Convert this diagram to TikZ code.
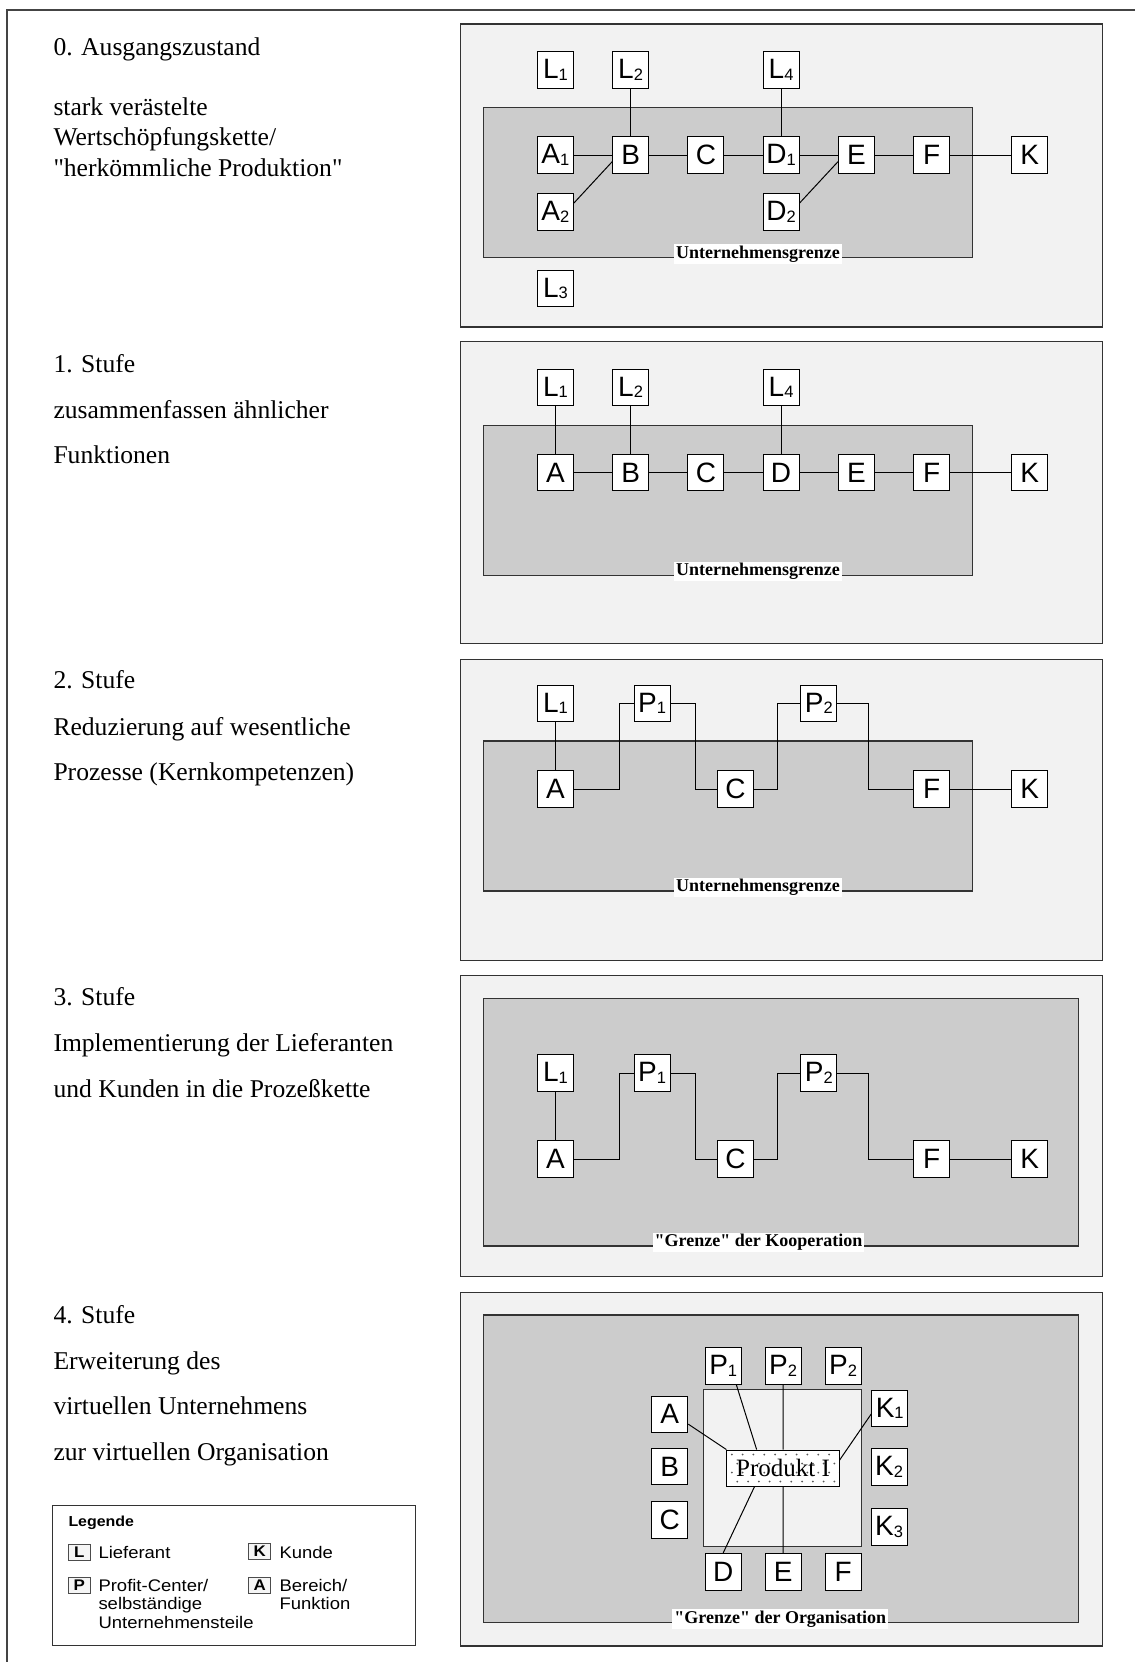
\documentclass[tikz,border=0pt]{standalone}
\usepackage{fontspec}
\setmainfont{Liberation Serif}
\newfontfamily\leftfont{Liberation Serif}
\newfontfamily\labfont{Liberation Serif}
\newfontfamily\boxfont{Liberation Sans}
\newfontfamily\legfont[FakeStretch=1.1]{Liberation Sans}
\newcommand\lsub[1]{\raisebox{-1.7pt}{\fontsize{16.5}{16.5}\selectfont #1}}
\definecolor{panelgrey}{HTML}{F2F2F2}
\definecolor{midgrey}{HTML}{CCCCCC}
\definecolor{framecol}{HTML}{444444}
\tikzset{
 bx/.style={draw=black, fill=white, minimum width=36, minimum height=36.7, inner sep=0, line width=0.9, font=\boxfont\fontsize{28}{28}\selectfont},
 ln/.style={line width=1, black},
 panel/.style={draw=black!80, fill=panelgrey, line width=1.3},
 greyrect/.style={draw=black!80, fill=midgrey, line width=1.2},
 lab/.style={fill=white, inner xsep=2, inner ysep=1.5, font=\labfont\bfseries\fontsize{18}{18}\selectfont},
 ltext/.style={anchor=base west, inner sep=0, font=\leftfont\fontsize{25.6}{30}\selectfont},
 legtext/.style={anchor=base west, inner sep=0, font=\legfont\fontsize{16.8}{18.6}\selectfont},
 sbx/.style={draw=black!70, fill=black!4, minimum width=21.7, minimum height=15.5, inner sep=0, line width=0.8, font=\legfont\bfseries\fontsize{15.4}{15.4}\selectfont},
 prod/.style={draw=black, fill=white, minimum width=112.3, minimum height=36, inner sep=0, line width=0.9,
   font=\labfont\fontsize{25}{25}\selectfont,
   path picture={\foreach \r in {0,...,3}{\foreach \c in {0,...,10}{
     \fill[black!65] ([xshift={5+\c*10.8+mod(\r,2)*5.4}, yshift={-4.5-\r*9}]path picture bounding box.north west) circle[radius=1];}}}},
}
\begin{document}
\begin{tikzpicture}[x=1pt,y=-1pt]
\useasboundingbox (0,0) rectangle (1135,1662);
\fill[white] (0,0) rectangle (1135,1662);
% outer frame
\draw[framecol, line width=1.8] (1135,10) -- (7,10) -- (7,1662);

% ================= Panel 0 =================
\node[ltext] (t0a) at (53.3,55.7) {0. Ausgangszustand};
\node[ltext] (t0b) at (53.3,115.7) {stark verästelte};
\node[ltext] (t0c) at (53.3,145.5) {Wertschöpfungskette/};
\node[ltext] (t0d) at (53.3,176) {"herkömmliche Produktion"};
\draw[panel] (460.2,24) rectangle (1102.5,327);
\draw[greyrect] (483.2,107.7) rectangle (972.3,257.7);
\node[bx] (a0L1) at (555.4,70) {L\lsub{1}};
\node[bx] (a0L2) at (630.6,70) {L\lsub{2}};
\node[bx] (a0L4) at (781.1,70) {L\lsub{4}};
\node[bx] (a0A1) at (555.4,155) {A\lsub{1}};
\node[bx] (a0B) at (630.6,155) {B};
\node[bx] (a0C) at (705.9,155) {C};
\node[bx] (a0D1) at (781.1,155) {D\lsub{1}};
\node[bx] (a0E) at (856.4,155) {E};
\node[bx] (a0F) at (931.6,155) {F};
\node[bx] (a0K) at (1029.8,155) {K};
\node[bx] (a0A2) at (555.4,211.7) {A\lsub{2}};
\node[bx] (a0D2) at (781.1,211.7) {D\lsub{2}};
\node[bx] (a0L3) at (555.4,288.3) {L\lsub{3}};
\draw[ln] (a0L2) -- (a0B);
\draw[ln] (a0L4) -- (a0D1);
\draw[ln] (a0A1) -- (a0B) -- (a0C) -- (a0D1) -- (a0E) -- (a0F) -- (a0K);
\draw[ln] (a0A2.25) -- (a0B.200);
\draw[ln] (a0D2.25) -- (a0E.200);
\node[lab] (g0) at (758,254.2) {Unternehmensgrenze};

% ================= Panel 1 =================
\node[ltext] (t1a) at (53.3,372.3) {1. Stufe};
\node[ltext] (t1b) at (53.3,418.3) {zusammenfassen ähnlicher};
\node[ltext] (t1c) at (53.3,463.3) {Funktionen};
\draw[panel] (460.2,341.5) rectangle (1102.5,643.5);
\draw[greyrect] (483.2,425.2) rectangle (972.3,575.2);
\node[bx] (a1L1) at (555.4,387.5) {L\lsub{1}};
\node[bx] (a1L2) at (630.6,387.5) {L\lsub{2}};
\node[bx] (a1L4) at (781.1,387.5) {L\lsub{4}};
\node[bx] (a1A) at (555.4,472.5) {A};
\node[bx] (a1B) at (630.6,472.5) {B};
\node[bx] (a1C) at (705.9,472.5) {C};
\node[bx] (a1D) at (781.1,472.5) {D};
\node[bx] (a1E) at (856.4,472.5) {E};
\node[bx] (a1F) at (931.6,472.5) {F};
\node[bx] (a1K) at (1029.8,472.5) {K};
\draw[ln] (a1L1) -- (a1A);
\draw[ln] (a1L2) -- (a1B);
\draw[ln] (a1L4) -- (a1D);
\draw[ln] (a1A) -- (a1B) -- (a1C) -- (a1D) -- (a1E) -- (a1F) -- (a1K);
\node[lab] (g1) at (758,571.7) {Unternehmensgrenze};

% ================= Panel 2 =================
\node[ltext] (t2a) at (53.3,688.3) {2. Stufe};
\node[ltext] (t2b) at (53.3,735) {Reduzierung auf wesentliche};
\node[ltext] (t2c) at (53.3,780) {Prozesse (Kernkompetenzen)};
\draw[panel] (460.2,659.3) rectangle (1102.5,960.7);
\draw[greyrect] (483.2,741) rectangle (972.3,891);
\node[bx] (a2L1) at (555.4,703.3) {L\lsub{1}};
\node[bx] (a2P1) at (652.1,703.3) {P\lsub{1}};
\node[bx] (a2P2) at (818.9,703.3) {P\lsub{2}};
\node[bx] (a2A) at (555.4,789) {A};
\node[bx] (a2C) at (735.4,789) {C};
\node[bx] (a2F) at (931.6,789) {F};
\node[bx] (a2K) at (1029.8,789) {K};
\draw[ln] (a2L1) -- (a2A);
\draw[ln] (a2A.east) -- ++(45.5,0) |- (a2P1.west);
\draw[ln] (a2P1.east) -- ++(24.7,0) |- (a2C.west);
\draw[ln] (a2C.east) -- ++(23.4,0) |- (a2P2.west);
\draw[ln] (a2P2.east) -- ++(30.9,0) |- (a2F.west);
\draw[ln] (a2F) -- (a2K);
\node[lab] (g2) at (758,887.5) {Unternehmensgrenze};

% ================= Panel 3 =================
\node[ltext] (t3a) at (53.3,1005.7) {3. Stufe};
\node[ltext] (t3b) at (53.3,1051.7) {Implementierung der Lieferanten};
\node[ltext] (t3c) at (53.3,1097.7) {und Kunden in die Prozeßkette};
\draw[panel] (460.2,975.7) rectangle (1102.5,1276.7);
\draw[greyrect] (483.2,998.3) rectangle (1078.6,1246);
\node[bx] (a3L1) at (555.4,1073) {L\lsub{1}};
\node[bx] (a3P1) at (652.1,1073) {P\lsub{1}};
\node[bx] (a3P2) at (818.9,1073) {P\lsub{2}};
\node[bx] (a3A) at (555.4,1159) {A};
\node[bx] (a3C) at (735.4,1159) {C};
\node[bx] (a3F) at (931.6,1159) {F};
\node[bx] (a3K) at (1029.8,1159) {K};
\draw[ln] (a3L1) -- (a3A);
\draw[ln] (a3A.east) -- ++(45.5,0) |- (a3P1.west);
\draw[ln] (a3P1.east) -- ++(24.7,0) |- (a3C.west);
\draw[ln] (a3C.east) -- ++(23.4,0) |- (a3P2.west);
\draw[ln] (a3P2.east) -- ++(30.9,0) |- (a3F.west);
\draw[ln] (a3F) -- (a3K);
\node[lab] (g3) at (758.5,1242.5) {"Grenze" der Kooperation};

% ================= Panel 4 =================
\node[ltext] (t4a) at (53.3,1323.3) {4. Stufe};
\node[ltext] (t4b) at (53.3,1369) {Erweiterung des};
\node[ltext] (t4c) at (53.3,1414.3) {virtuellen Unternehmens};
\node[ltext] (t4d) at (53.3,1460) {zur virtuellen Organisation};
\draw[panel] (460.2,1292.7) rectangle (1102.5,1646);
\draw[greyrect] (483.2,1315) rectangle (1078.2,1622.7);
\draw[draw=black!80, fill=panelgrey, line width=1] (703.5,1389.3) rectangle (861.3,1546.7);
\node[prod] (prod) at (783,1468) {Produkt I};
\node[bx] (a4P1) at (723.2,1366) {P\lsub{1}};
\node[bx] (a4P2) at (783.1,1366) {P\lsub{2}};
\node[bx] (a4P3) at (843.1,1366) {P\lsub{2}};
\node[bx] (a4A) at (669.8,1414.3) {A};
\node[bx] (a4B) at (669.8,1466.5) {B};
\node[bx] (a4C) at (669.8,1519.8) {C};
\node[bx] (a4K1) at (889.7,1408.3) {K\lsub{1}};
\node[bx] (a4K2) at (889,1466.7) {K\lsub{2}};
\node[bx] (a4K3) at (889,1526.7) {K\lsub{3}};
\node[bx] (a4D) at (723.2,1571.7) {D};
\node[bx] (a4E) at (783.1,1571.7) {E};
\node[bx] (a4F) at (843.1,1571.7) {F};
\draw[ln] (a4A.-28) -- (prod.north west);
\draw[ln] (a4P1.-55) -- (prod.145);
\draw[ln] (a4P2.south) -- (prod.north);
\draw[ln] (a4K1.197) -- (prod.8);
\draw[ln] (prod.213) -- (a4D.north);
\draw[ln] (prod.south) -- (a4E.north);
\node[lab] (g4) at (780.2,1619.2) {"Grenze" der Organisation};

% ================= Legend =================
\draw[draw=black!80, fill=white, line width=1] (52.7,1505) rectangle (415,1645);
\node[anchor=base west, inner sep=0, font=\legfont\bfseries\fontsize{14.5}{14.5}\selectfont] (lg) at (68.3,1526.7) {Legende};
\node[sbx] (lgL) at (79.2,1552.5) {L};
\node[legtext] (lgLt) at (98.3,1558.3) {Lieferant};
\node[sbx] (lgK) at (259.7,1551.2) {K};
\node[legtext] (lgKt) at (279.3,1558.3) {Kunde};
\node[sbx] (lgP) at (79.2,1585.3) {P};
\node[legtext] (lgPt1) at (98.3,1591) {Profit-Center/};
\node[legtext] (lgPt2) at (98.3,1609.5) {selbständige};
\node[legtext] (lgPt3) at (98.3,1628) {Unternehmensteile};
\node[sbx] (lgA) at (259.7,1585.3) {A};
\node[legtext] (lgAt1) at (279.3,1591) {Bereich/};
\node[legtext] (lgAt2) at (279.3,1609.5) {Funktion};
\end{tikzpicture}
\end{document}
